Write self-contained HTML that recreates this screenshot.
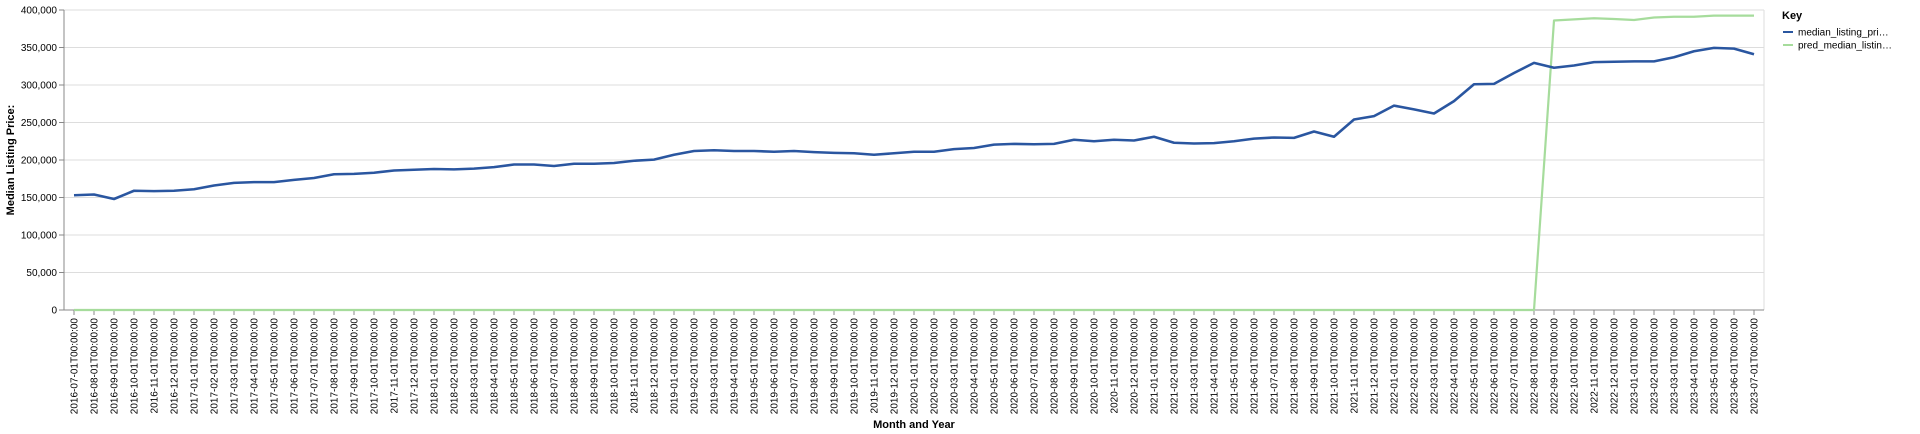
<!DOCTYPE html>
<html><head><meta charset="utf-8">
<style>
html,body{margin:0;padding:0;background:#fff;}
svg{display:block;font-family:"Liberation Sans",Arial,sans-serif;}
</style></head>
<body>
<svg id="chart" width="1920" height="434" viewBox="0 0 1920 434" xmlns="http://www.w3.org/2000/svg">
<g id="grid"></g>
<g id="yaxis"></g>
<g id="xaxis"></g>
<g id="series"></g>
<text transform="translate(14,160) rotate(-90)" text-anchor="middle" font-size="11" font-weight="bold" fill="#000">Median Listing Price:</text>
<text x="914" y="428" text-anchor="middle" font-size="11" font-weight="bold" fill="#000">Month and Year</text>
<g>
<text x="1782" y="19" font-size="11" font-weight="bold" fill="#000">Key</text>
<g>
<line x1="1783" y1="32" x2="1793" y2="32" stroke="#2a56a0" stroke-width="2"/>
<text x="1798" y="35.5" font-size="10" fill="#000">median_listing_pri…</text>
</g>
<g>
<line x1="1783" y1="45" x2="1793" y2="45" stroke="#a6dc9c" stroke-width="2"/>
<text x="1798" y="48.5" font-size="10" fill="#000">pred_median_listin…</text>
</g>
</g>
</svg>
<script>
const startYear = 2016, startMonth = 7, monthCount = 85;
const medianValues = [153,154,148,159,158.5,159,161,166,169.5,170.5,170.5,173.5,176,181,181.5,183,186,187,188,187.5,188.5,190.5,194,194,192,195,195,196,199,200.5,207,212,213,212,212,211,212,210.5,209.5,209,207,209,211,211,214.5,216,220.5,221.5,221,221.5,227,225,227,226,231,223,222,222.5,225,228.5,230,229.5,238,231,254,258.5,272.5,267.5,262,278.5,301,301.5,316,329.5,323,326,330.5,331,331.5,331.5,337,345,349.5,348.5,341];
const predValues = [0,0,0,0,0,0,0,0,0,0,0,0,0,0,0,0,0,0,0,0,0,0,0,0,0,0,0,0,0,0,0,0,0,0,0,0,0,0,0,0,0,0,0,0,0,0,0,0,0,0,0,0,0,0,0,0,0,0,0,0,0,0,0,0,0,0,0,0,0,0,0,0,0,0,386,387.5,389,388,386.7,390,391,391,392.5,392.5,392.5];
const yTicks = [0,50000,100000,150000,200000,250000,300000,350000,400000];

const NS = "http://www.w3.org/2000/svg";
const plotL = 64, plotR = 1764, plotT = 10, plotB = 310;
const firstX = 74, lastX = 1754;
function xPos(i){ return firstX + i*(lastX-firstX)/(monthCount-1); }
function yPos(v){ return plotB - (v/400000)*(plotB-plotT); }
function mk(tag, attrs, parent){ const e=document.createElementNS(NS,tag); for(const k in attrs) e.setAttribute(k,attrs[k]); parent.appendChild(e); return e; }
const pad = n => String(n).padStart(2,'0');
const labels = [];
for(let i=0;i<monthCount;i++){ const m=startMonth-1+i; labels.push((startYear+Math.floor(m/12))+"-"+pad(m%12+1)+"-01T00:00:00"); }

const grid = document.getElementById('grid'), yaxis=document.getElementById('yaxis'), xaxis=document.getElementById('xaxis'), series=document.getElementById('series');
yTicks.forEach(t=>{
  const y=yPos(t);
  const g=mk('line',{x1:plotL,x2:plotR,y1:y,y2:y,stroke:'#ddd','stroke-width':1},grid);
  
  
  mk('line',{x1:plotL-5,x2:plotL,y1:y,y2:y,stroke:'#888'},yaxis);
  const tx=mk('text',{x:plotL-7,y:y+3.5,'text-anchor':'end','font-size':10,fill:'#000'},yaxis);
  
  
  tx.textContent=t.toLocaleString('en-US');
});
mk('line',{x1:plotR,x2:plotR,y1:plotT,y2:plotB,stroke:'#ddd'},grid);
mk('line',{x1:plotL,x2:plotL,y1:plotT,y2:plotB,stroke:'#888'},yaxis);
mk('line',{x1:plotL,x2:plotR,y1:plotB,y2:plotB,stroke:'#888'},xaxis);
labels.forEach((l,i)=>{
  const x=xPos(i);
  mk('line',{x1:x,x2:x,y1:plotB,y2:plotB+5,stroke:'#888'},xaxis);
  const tx=mk('text',{transform:`translate(${x+3.5},${plotB+8}) rotate(-90)`,'text-anchor':'end','font-size':10,fill:'#000'},xaxis);
  
  
  tx.textContent=l;
});
function path(vals){ return vals.map((v,i)=>(i?'L':'M')+xPos(i).toFixed(2)+','+yPos(v*1000).toFixed(2)).join(''); }
const pp=mk('path',{d:path(predValues),fill:'none',stroke:'#a6dc9c','stroke-width':2.2,'stroke-linejoin':'round'},series);


const mp=mk('path',{d:path(medianValues),fill:'none',stroke:'#2a56a0','stroke-width':2.6,'stroke-linejoin':'round'},series);


</script>
</body></html>
